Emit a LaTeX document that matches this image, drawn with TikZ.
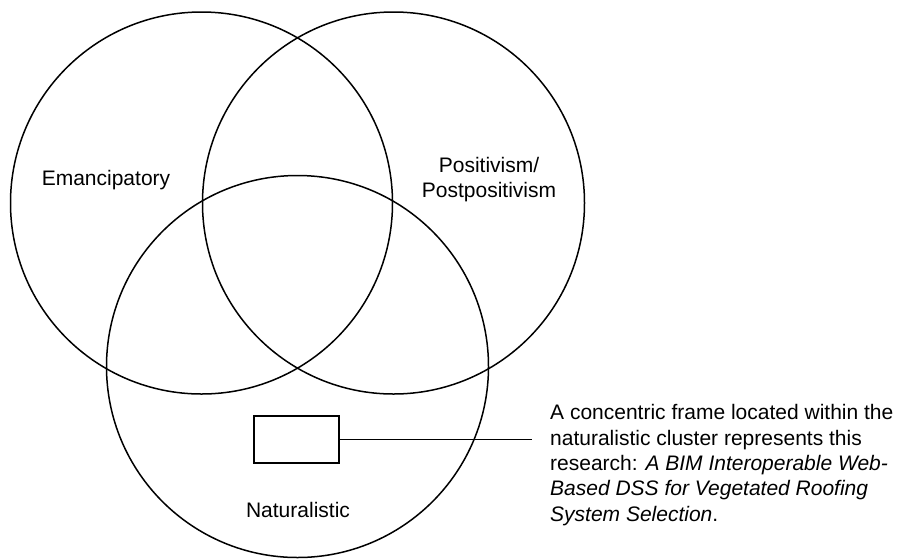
\documentclass[tikz,border=0pt]{standalone}
\usepackage{fontspec}
\setmainfont{Liberation Sans}
\begin{document}
\begin{tikzpicture}[x=1pt,y=-1pt,
  paradigm/.style={draw, line width=1.5pt, circle, minimum size=382pt, inner sep=0pt},
  lbl/.style={font=\fontsize{21}{25.3}\selectfont, align=center, inner sep=0pt},
  frame/.style={draw, line width=1.5pt, minimum width=85pt, minimum height=47pt, inner sep=0pt},
  link/.style={line width=1.5pt}]
  \useasboundingbox (0,0) rectangle (902,558);

  % three overlapping paradigm clusters
  \node[paradigm] (eman) at (201.5,203) {};
  \node[paradigm] (posi) at (393.5,203) {};
  \node[paradigm] (natu) at (297.5,366.5) {};

  \node[lbl] (emanlbl) at (106,180) {Emancipatory};
  \node[lbl] (posilbl) at (489,179.5) {Positivism/\\Postpositivism};
  \node[lbl] (natulbl) at (298,510) {Naturalistic};

  % research frame inside the naturalistic cluster
  \node[frame] (research) at (296.5,439.5) {};
  \coordinate (linkend) at (532,439.5);
  \draw[link] (research.east) -- (linkend);

  \node[font=\fontsize{21}{25.3}\selectfont, align=left, inner sep=0pt, anchor=north west]
    (note) at (550,404.5)
    {A concentric frame located within the\\
     naturalistic cluster represents this\\
     research: \textit{A BIM Interoperable Web-}\\
     \textit{Based DSS for Vegetated Roofing}\\
     \textit{System Selection}.};
\end{tikzpicture}
\end{document}
